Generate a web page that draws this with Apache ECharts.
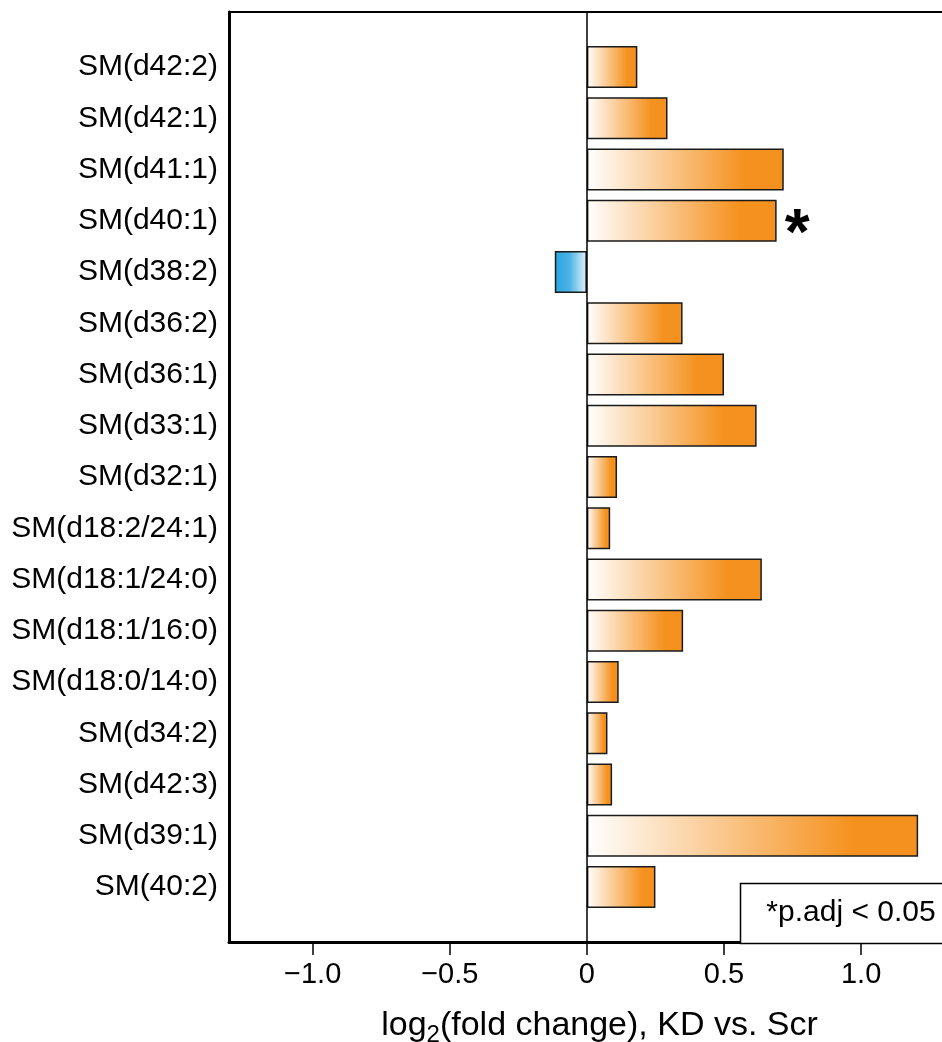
<!DOCTYPE html>
<html>
<head>
<meta charset="utf-8">
<script src="https://cdn.jsdelivr.net/npm/echarts@6/dist/echarts.min.js"></script>
<style>html,body{margin:0;padding:0;background:#fff;}#c{width:942px;height:1042px;}</style>
</head>
<body>
<div id="c"></div>
<script>
var categories = ['SM(d42:2)','SM(d42:1)','SM(d41:1)','SM(d40:1)','SM(d38:2)','SM(d36:2)','SM(d36:1)','SM(d33:1)','SM(d32:1)','SM(d18:2/24:1)','SM(d18:1/24:0)','SM(d18:1/16:0)','SM(d18:0/14:0)','SM(d34:2)','SM(d42:3)','SM(d39:1)','SM(40:2)'];
var values = [0.184, 0.294, 0.718, 0.692, -0.117, 0.349, 0.500, 0.619, 0.110, 0.085, 0.638, 0.351, 0.116, 0.075, 0.092, 1.208, 0.250];
var significant = [0,0,0,1,0,0,0,0,0,0,0,0,0,0,0,0,0];
var xTicks = [-1.0, -0.5, 0, 0.5, 1.0];
var legendText = '*p.adj < 0.05';

var FONT = '"Liberation Sans", Arial, Helvetica, sans-serif';
var orangeGrad = new echarts.graphic.LinearGradient(0,0,1,0,[
  {offset:0,color:'#FFFFFF'},{offset:0.8,color:'#F5921F'},{offset:1,color:'#F5921F'}]);
var blueGrad = new echarts.graphic.LinearGradient(0,0,1,0,[
  {offset:0,color:'#29A5DF'},{offset:0.45,color:'#4BB3E6'},{offset:1,color:'#E2F3FB'}]);

var barData = values.map(function(v,i){
  return {
    value: v,
    itemStyle: {color: v < 0 ? blueGrad : orangeGrad},
    label: significant[i] ? {show:true, position:'right', formatter:'*', fontSize:64, fontWeight:'bold', color:'#000', fontFamily:FONT, offset:[4,16], distance:4} : {show:false}
  };
});

function fmt(v){
  if (v === 0) return '0';
  var s = Math.abs(v).toFixed(1);
  return (v < 0 ? '\u2212' : '') + s;
}

var XMIN = -1.305, XMAX = 1.295;

var chart = echarts.init(document.getElementById('c'), null, {renderer:'canvas'});
chart.setOption({
  animation: false,
  backgroundColor: '#fff',
  grid: [
    {left:229, right:0, top:12, bottom:100, containLabel:false, outerBoundsMode:'none'},
    {left:229, right:0, top:41.4, bottom:129.35, containLabel:false, outerBoundsMode:'none'}
  ],
  xAxis: [
    {gridIndex:0, type:'value', min:XMIN, max:XMAX, position:'bottom',
     axisLine:{show:true, lineStyle:{color:'#000', width:3}},
     axisTick:{show:true, length:13, lineStyle:{color:'#000', width:1.5}, customValues: xTicks},
     axisLabel:{show:true, customValues: xTicks, formatter: fmt, fontSize:29, color:'#000', fontFamily:FONT, margin:18},
     splitLine:{show:false},
     name:'log{sub|2}(fold change), KD vs. Scr', nameLocation:'middle', nameGap:63,
     nameTextStyle:{fontSize:34, color:'#000', fontFamily:FONT, padding:[0,0,0,28],
       rich:{sub:{fontSize:24, color:'#000', fontFamily:FONT, padding:[18,0,0,0]}}}
    },
    {gridIndex:0, type:'value', min:XMIN, max:XMAX, position:'top',
     axisLine:{show:true, lineStyle:{color:'#000', width:2}},
     axisTick:{show:false}, axisLabel:{show:false}, splitLine:{show:false}},
    {gridIndex:1, type:'value', min:XMIN, max:XMAX, show:false, splitLine:{show:false}}
  ],
  yAxis: [
    {gridIndex:0, type:'value', min:0, max:1, position:'left',
     axisLine:{show:true, onZero:false, lineStyle:{color:'#000', width:3}},
     axisTick:{show:false}, axisLabel:{show:false}, splitLine:{show:false}},
    {gridIndex:1, type:'category', data:categories, inverse:true,
     axisLine:{show:false}, axisTick:{show:false}, splitLine:{show:false},
     axisLabel:{fontSize:30, color:'#000', fontFamily:FONT, margin:11}}
  ],
  series: [
    {type:'scatter', xAxisIndex:0, yAxisIndex:0, data:[], silent:true,
     markLine:{silent:true, symbol:['none','none'], label:{show:false},
       lineStyle:{color:'#000', width:1.5, type:'solid'},
       data:[{xAxis:0}]}},
    {type:'bar', xAxisIndex:2, yAxisIndex:1, data:barData, barWidth:42,
     itemStyle:{borderColor:'#1a1a1a', borderWidth:1.5}}
  ],
  graphic: [
    {type:'rect', shape:{x:740.5, y:883.5, width:240, height:60},
     style:{fill:'#fff', stroke:'#000', lineWidth:1.5}, z:100},
    {type:'text', x:851, y:913, z:101,
     style:{text:legendText, fontSize:30, fill:'#000', fontFamily:FONT, align:'center', verticalAlign:'middle'}}
  ]
});
</script>
</body>
</html>
